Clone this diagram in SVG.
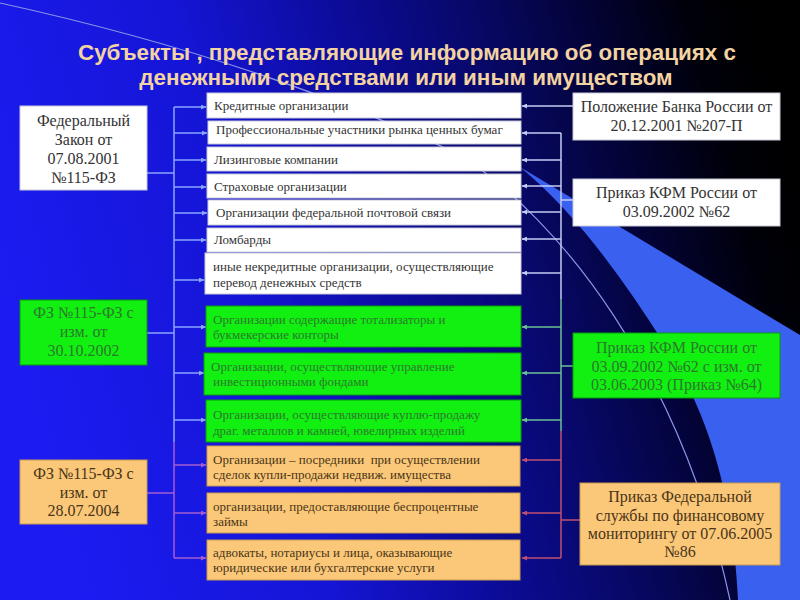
<svg xmlns="http://www.w3.org/2000/svg" width="800" height="600" viewBox="0 0 800 600">
<defs>
<linearGradient id="bg" x1="0" y1="0.5" x2="1" y2="0.3">
<stop offset="0" stop-color="#1c1cf2"/>
<stop offset="0.3" stop-color="#1515d6"/>
<stop offset="0.5" stop-color="#0c0c9a"/>
<stop offset="0.65" stop-color="#08086a"/>
<stop offset="0.8" stop-color="#030335"/>
<stop offset="0.92" stop-color="#00000a"/>
<stop offset="1" stop-color="#000000"/>
</linearGradient>
<marker id="aBlue" viewBox="0 0 6 6" refX="6" refY="3" markerWidth="5" markerHeight="5" markerUnits="userSpaceOnUse" orient="auto"><path d="M0,0 L6,3 L0,6 z" fill="#8aa6ff"/></marker>
<marker id="aPurp" viewBox="0 0 6 6" refX="6" refY="3" markerWidth="5" markerHeight="5" markerUnits="userSpaceOnUse" orient="auto"><path d="M0,0 L6,3 L0,6 z" fill="#a45cd0"/></marker>
<marker id="aLav" viewBox="0 0 6 6" refX="6" refY="3" markerWidth="5" markerHeight="5" markerUnits="userSpaceOnUse" orient="auto"><path d="M0,0 L6,3 L0,6 z" fill="#c4ccf4"/></marker>
<marker id="aGrn" viewBox="0 0 6 6" refX="6" refY="3" markerWidth="5" markerHeight="5" markerUnits="userSpaceOnUse" orient="auto"><path d="M0,0 L6,3 L0,6 z" fill="#6cc094"/></marker>
<marker id="aRed" viewBox="0 0 6 6" refX="6" refY="3" markerWidth="5" markerHeight="5" markerUnits="userSpaceOnUse" orient="auto"><path d="M0,0 L6,3 L0,6 z" fill="#c05070"/></marker>
<style>
.title{font-family:"Liberation Sans",Arial,sans-serif;font-weight:bold;font-size:22.4px;fill:#f3d3a2;text-anchor:middle}
.w{fill:#ffffff;stroke:#c8c8d8;stroke-width:1}
.g{fill:#12f012;stroke:#0a9a0a;stroke-width:1}
.o{fill:#fac878;stroke:#c89a50;stroke-width:1}
.big{font-family:"Liberation Serif","Times New Roman",serif;font-size:16px;text-anchor:middle}
.mid{font-family:"Liberation Serif","Times New Roman",serif;font-size:13px}
.tw{fill:#333333}
.tg{fill:#2a7a2a}
.to{fill:#4a3418}
.c{fill:none;stroke-width:1.5}
.cb{stroke:#8aa6ff}
.cp{stroke:#a45cd0}
.cl{stroke:#c4ccf4}
.cg{stroke:#6cc094}
.cr{stroke:#c05070}
</style>
</defs>

<g id="background">
<rect x="0" y="0" width="800" height="600" fill="url(#bg)"/>
<path d="M520,167 L800,335 L800,600 L738,600 C733,500 712,420 665,345 C625,282 578,215 520,167 Z" fill="#3a60f0"/>
<path d="M0,3 Q260,60 460,155 C560,220 680,370 730,600" fill="none" stroke="#8c94e8" stroke-width="1.2"/>
</g>

<g id="title">
<text class="title" x="407" y="60">Субъекты , представляющие информацию об операциях с</text>
<text class="title" x="406" y="85">денежными средствами или иным имуществом</text>
</g>

<g id="connectors">
<path class="c cb" d="M147,173 H174"/>
<path class="c cb" d="M147,333 H174"/>
<path class="c cp" d="M147,493 H174"/>
<path class="c cb" d="M174,107 V442"/>
<path class="c cp" d="M174,442 V558"/>
<path class="c cb" d="M174,107 H206" marker-end="url(#aBlue)"/>
<path class="c cb" d="M174,133 H207" marker-end="url(#aBlue)"/>
<path class="c cb" d="M174,160 H206" marker-end="url(#aBlue)"/>
<path class="c cb" d="M174,187 H206" marker-end="url(#aBlue)"/>
<path class="c cb" d="M174,213 H207" marker-end="url(#aBlue)"/>
<path class="c cb" d="M174,240 H206" marker-end="url(#aBlue)"/>
<path class="c cb" d="M174,280 H204" marker-end="url(#aBlue)"/>
<path class="c cb" d="M174,327 H206" marker-end="url(#aBlue)"/>
<path class="c cb" d="M174,373 H204" marker-end="url(#aBlue)"/>
<path class="c cb" d="M174,420 H206" marker-end="url(#aBlue)"/>
<path class="c cp" d="M174,465 H206" marker-end="url(#aPurp)"/>
<path class="c cp" d="M174,513 H206" marker-end="url(#aPurp)"/>
<path class="c cp" d="M174,558 H206" marker-end="url(#aPurp)"/>
<path class="c cl" d="M573,106 H522" marker-end="url(#aLav)"/>
<path class="c cl" d="M573,200 H561"/>
<path class="c cl" d="M561,133 V299"/>
<path class="c cl" d="M561,133 H522" marker-end="url(#aLav)"/>
<path class="c cl" d="M561,160 H522" marker-end="url(#aLav)"/>
<path class="c cl" d="M561,186 H522" marker-end="url(#aLav)"/>
<path class="c cl" d="M561,212 H522" marker-end="url(#aLav)"/>
<path class="c cl" d="M561,239 H522" marker-end="url(#aLav)"/>
<path class="c cl" d="M561,273 H522" marker-end="url(#aLav)"/>
<path class="c cg" d="M573,366 H561"/>
<path class="c cg" d="M561,299 V431"/>
<path class="c cg" d="M561,327 H522" marker-end="url(#aGrn)"/>
<path class="c cg" d="M561,373 H522" marker-end="url(#aGrn)"/>
<path class="c cg" d="M561,420 H522" marker-end="url(#aGrn)"/>
<path class="c cr" d="M580,520 H561"/>
<path class="c cr" d="M561,431 V558"/>
<path class="c cr" d="M561,460 H522" marker-end="url(#aRed)"/>
<path class="c cr" d="M561,513 H522" marker-end="url(#aRed)"/>
<path class="c cr" d="M561,558 H522" marker-end="url(#aRed)"/>
</g>

<g id="law-2001">
<rect class="w" x="20" y="106" width="127" height="84"/>
<text class="big tw" x="83.5" y="126">Федеральный</text>
<text class="big tw" x="83.5" y="145">Закон от</text>
<text class="big tw" x="83.5" y="164">07.08.2001</text>
<text class="big tw" x="83.5" y="183">№115-ФЗ</text>
</g>
<g id="law-2002">
<rect class="g" x="20" y="300" width="127" height="65"/>
<text class="big tg" x="83.5" y="318" font-size="15">ФЗ №115-ФЗ с</text>
<text class="big tg" x="83.5" y="337" font-size="15">изм. от</text>
<text class="big tg" x="83.5" y="356">30.10.2002</text>
</g>
<g id="law-2004">
<rect class="o" x="20" y="460" width="127" height="64"/>
<text class="big to" x="83.5" y="479">ФЗ №115-ФЗ с</text>
<text class="big to" x="83.5" y="498">изм. от</text>
<text class="big to" x="83.5" y="516">28.07.2004</text>
</g>

<g id="s1"><rect class="w" x="207" y="93" width="314" height="25"/><text class="mid tw" x="214" y="110">Кредитные организации</text></g>
<g id="s2"><rect class="w" x="208" y="121" width="313" height="23"/><text class="mid tw" x="216" y="134" font-size="10.5">Профессиональные участники рынка ценных бумаг</text></g>
<g id="s3"><rect class="w" x="207" y="147" width="314" height="24"/><text class="mid tw" x="214" y="164">Лизинговые компании</text></g>
<g id="s4"><rect class="w" x="207" y="174" width="314" height="24"/><text class="mid tw" x="214" y="191">Страховые организации</text></g>
<g id="s5"><rect class="w" x="208" y="200" width="313" height="25"/><text class="mid tw" x="216" y="217">Организации федеральной почтовой связи</text></g>
<g id="s6"><rect class="w" x="207" y="228" width="314" height="24"/><text class="mid tw" x="214" y="244">Ломбарды</text></g>
<g id="s7"><rect class="w" x="205" y="253" width="316" height="41"/><text class="mid tw" x="213" y="271">иные некредитные организации, осуществляющие</text><text class="mid tw" x="213" y="287">перевод денежных средств</text></g>

<g id="s8"><rect class="g" x="206" y="306" width="315" height="41"/><text class="mid tg" x="213" y="324">Организации содержащие тотализаторы и</text><text class="mid tg" x="213" y="339">букмекерские конторы</text></g>
<g id="s9"><rect class="g" x="204" y="353" width="317" height="42"/><text class="mid tg" x="211" y="371">Организации, осуществляющие управление</text><text class="mid tg" x="213" y="386">инвестиционными фондами</text></g>
<g id="s10"><rect class="g" x="206" y="400" width="315" height="42"/><text class="mid tg" x="213" y="419">Организации, осуществляющие куплю-продажу</text><text class="mid tg" x="213" y="435">драг. металлов и камней, ювелирных изделий</text></g>

<g id="s11"><rect class="o" x="207" y="446" width="313" height="40"/><text class="mid to" x="213" y="464" xml:space="preserve">Организации – посредники  при осуществлении</text><text class="mid to" x="213" y="479">сделок купли-продажи недвиж. имущества</text></g>
<g id="s12"><rect class="o" x="207" y="493" width="313" height="40"/><text class="mid to" x="213" y="511">организации, предоставляющие беспроцентные</text><text class="mid to" x="213" y="526">займы</text></g>
<g id="s13"><rect class="o" x="207" y="540" width="313" height="40"/><text class="mid to" x="213" y="557">адвокаты, нотариусы и лица, оказывающие</text><text class="mid to" x="213" y="572">юридические или бухгалтерские услуги</text></g>

<g id="reg-cb">
<rect class="w" x="573" y="93" width="207" height="47"/>
<text class="big tw" x="676.5" y="112">Положение Банка России от</text>
<text class="big tw" x="676.5" y="131">20.12.2001 №207-П</text>
</g>
<g id="reg-kfm62">
<rect class="w" x="573" y="179" width="207" height="47"/>
<text class="big tw" x="676.5" y="198">Приказ КФМ России от</text>
<text class="big tw" x="676.5" y="217">03.09.2002 №62</text>
</g>
<g id="reg-kfm64">
<rect class="g" x="573" y="333" width="207" height="65"/>
<text class="big tg" x="676.5" y="353">Приказ КФМ России от</text>
<text class="big tg" x="676.5" y="372">03.09.2002 №62 с изм. от</text>
<text class="big tg" x="676.5" y="390">03.06.2003 (Приказ №64)</text>
</g>
<g id="reg-fsfm86">
<rect class="o" x="580" y="483" width="200" height="82"/>
<text class="big to" x="680" y="502">Приказ Федеральной</text>
<text class="big to" x="680" y="521">службы по финансовому</text>
<text class="big to" x="680" y="539">мониторингу от 07.06.2005</text>
<text class="big to" x="680" y="557">№86</text>
</g>
</svg>
